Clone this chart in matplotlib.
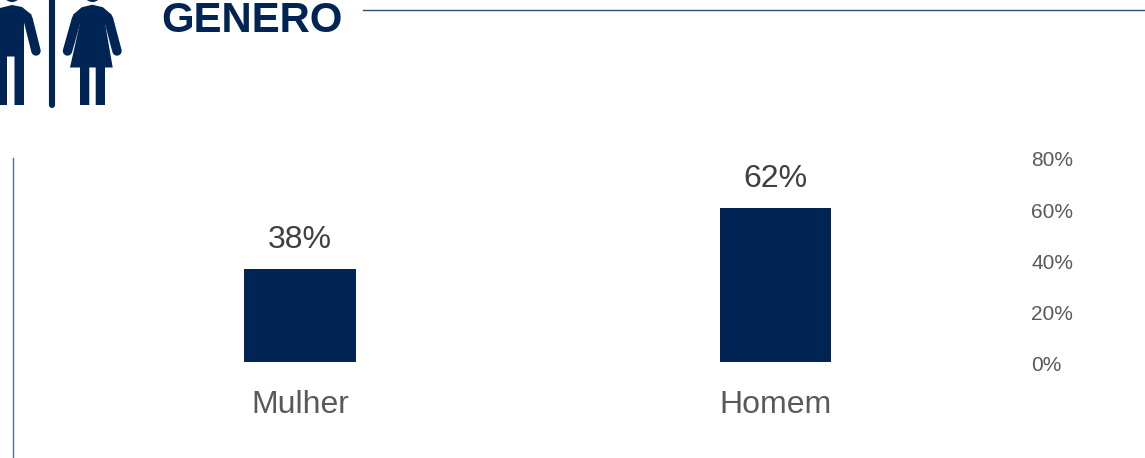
import matplotlib
matplotlib.use("Agg")
import matplotlib.pyplot as plt
from matplotlib.patches import Circle, Polygon

plt.rcParams['font.family'] = ['Liberation Sans', 'DejaVu Sans']

categories = ["Mulher", "Homem"]
values = [37.6, 62.4]
ticks = [0, 20, 40, 60, 80]
tick_labels = ["0%", "20%", "40%", "60%", "80%"]
title = "GENERO"

W, H = 1145, 458
NAVY = "#002554"


def box(left, top, right, bottom):
    return [left / W, 1 - bottom / H, (right - left) / W, (bottom - top) / H]


fig = plt.figure(figsize=(W / 100, H / 100), dpi=100)

# bars
ax = fig.add_axes(box(62, 164, 1013.5, 362))
ax.bar(range(2), values, width=0.2345, color=NAVY)
ax.set_xlim(-0.5, 1.5)
ax.set_ylim(0, 80)
ax.set_yticks([])
ax.set_xticks(range(2))
ax.set_xticklabels(categories, fontsize=23, color="#595959")
ax.tick_params(axis='x', length=0, pad=20.5)
for s in ax.spines.values():
    s.set_visible(False)
ax.patch.set_alpha(0)
for i, v in enumerate(values):
    ax.annotate(f"{v:.0f}%", (i, v), xytext=(0, 9.8), textcoords='offset points',
                ha='center', va='bottom', fontsize=23, color="#404040")

# the value axis labels sit on their own scale in the original
ax2 = fig.add_axes(box(1020, 159, 1025, 363.5))
ax2.set_ylim(0, 80)
ax2.set_xticks([])
ax2.set_yticks(ticks)
ax2.set_yticklabels(tick_labels, fontsize=15, color="#595959")
ax2.yaxis.tick_right()
ax2.tick_params(axis='y', length=0, pad=4.5)
for s in ax2.spines.values():
    s.set_visible(False)
ax2.patch.set_alpha(0)

# header, icon and rules in pixel coordinates
deco = fig.add_axes([0, 0, 1, 1], zorder=-1)
deco.set_xlim(0, W)
deco.set_ylim(H, 0)
deco.axis('off')
deco.text(161, 32, title, fontsize=30.2, fontweight='bold', color=NAVY,
          ha='left', va='baseline')
deco.plot([363, W], [10.2, 10.2], color="#2a4d7f", lw=1)
deco.plot([13.2, 13.2], [158, H], color="#5c6f8c", lw=1)
deco.plot([51.5, 51.5], [-2, 104.5], color=NAVY, lw=4.4, solid_capstyle='round')

# man
deco.add_patch(Circle((12, -7), 9, color=NAVY, lw=0))
deco.add_patch(Polygon([(-8, 10), (0, 8), (12, 5), (22, 7), (32, 15),
                        (24, 23), (24, 105), (14.5, 105), (14.5, 56.5), (7, 56.5),
                        (7, 105), (-8, 105)], color=NAVY, lw=0))
deco.plot([28, 36], [19, 51], color=NAVY, lw=6.8, solid_capstyle='round')

# woman
deco.add_patch(Circle((92.5, -7), 9, color=NAVY, lw=0))
deco.add_patch(Polygon([(72.7, 15), (81.7, 7.3), (92.3, 4.7), (103, 7.3), (112, 15),
                        (105, 23), (112.7, 67.5), (105, 67.5), (105, 105), (95.7, 105),
                        (95.7, 67.5), (89.3, 67.5), (89.3, 105), (80, 105), (80, 67.5),
                        (70, 67.5), (80, 23)], color=NAVY, lw=0))
deco.plot([76.5, 67.5], [19, 51], color=NAVY, lw=6.8, solid_capstyle='round')
deco.plot([108.5, 117], [19, 51], color=NAVY, lw=6.8, solid_capstyle='round')

fig.savefig("out.png", dpi=100)
